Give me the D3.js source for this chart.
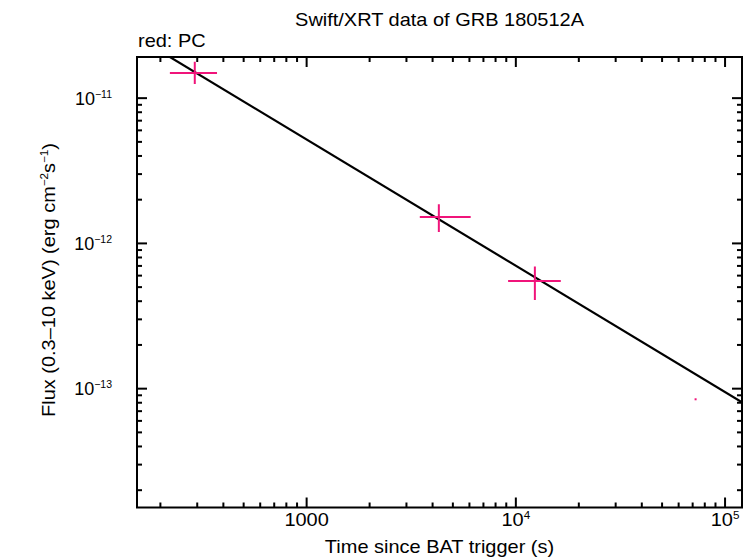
<!DOCTYPE html>
<html><head><meta charset="utf-8">
<script src="https://cdn.jsdelivr.net/npm/d3@7"></script>
<style>body{margin:0;background:#fff}svg{display:block}text{font-family:"Liberation Sans",Arial,sans-serif;fill:#000}</style>
</head><body><svg id="c" width="754" height="558"></svg>
<script>
// Data
const times      = [292, 4285, 12330];
const timesLow   = [222, 3475, 9183];
const timesHigh  = [373, 6083, 16400];
const fluxes     = [1.49e-11, 1.52e-12, 5.52e-13];
const fluxLow    = [1.25e-11, 1.20e-12, 4.08e-13];
const fluxHigh   = [1.78e-11, 1.86e-12, 6.93e-13];
const upperTimes = [72300];
const upperFlux  = [8.45e-14];
const fitIndex = 0.869;
const fitNormAt1000 = 5.19e-12;
const xTickVals = [1000, 1e4, 1e5];
const xTickExps = [null, "4", "5"];
const yTickVals = [1e-11, 1e-12, 1e-13];
const yTickExps = ["−11", "−12", "−13"];

const W=754,H=558, L=137,R=742,T=57,B=507.5;
const SX=1.11, FS=18, SUP=10.5;
const svg=d3.select("#c");
const x=d3.scaleLog().domain([154.6,120500]).range([L,R]);
const y=d3.scaleLog().domain([1.52e-14,1.92e-11]).range([B,T]);
const pink="#f0147a";

svg.append("defs").append("clipPath").attr("id","clip").append("rect")
  .attr("x",L).attr("y",T).attr("width",R-L).attr("height",B-T);

function xTicks(){
  const out=[];
  for(let e=2;e<=5;e++) for(let m=1;m<=9;m++){const v=m*Math.pow(10,e); if(v>=x.domain()[0]&&v<=x.domain()[1]) out.push({v,major:m===1});}
  return out;
}
function yTicks(){
  const out=[];
  for(let e=-15;e<=-11;e++) for(let m=1;m<=9;m++){const v=m*Math.pow(10,e); if(v>=y.domain()[0]&&v<=y.domain()[1]) out.push({v,major:m===1});}
  return out;
}
const g=svg.append("g").attr("stroke","#000").attr("stroke-width",2);
xTicks().forEach(d=>{const px=x(d.v),len=d.major?10:5;
  g.append("line").attr("x1",px).attr("x2",px).attr("y1",B).attr("y2",B-len);
  g.append("line").attr("x1",px).attr("x2",px).attr("y1",T).attr("y2",T+len);});
yTicks().forEach(d=>{const py=y(d.v),len=d.major?10:5;
  g.append("line").attr("x1",L).attr("x2",L+len).attr("y1",py).attr("y2",py);
  g.append("line").attr("x1",R).attr("x2",R-len).attr("y1",py).attr("y2",py);});
svg.append("rect").attr("x",L).attr("y",T).attr("width",R-L).attr("height",B-T)
  .attr("fill","none").attr("stroke","#000").attr("stroke-width",2);

// text helper with horizontal stretch
function stext(px,py,anchor,rot,sx){
  const gg=svg.append("g").attr("transform",`translate(${px},${py})`+(rot?` rotate(${rot})`:"")+` scale(${sx||SX},1)`);
  return gg.append("text").attr("x",0).attr("y",0).attr("text-anchor",anchor).attr("font-size",FS);
}
function pow10(t,exp){
  t.append("tspan").text("10");
  t.append("tspan").attr("dy",-7).attr("font-size",SUP).text(exp);
}

xTickVals.forEach((v,i)=>{
  const t=stext(x(v),526,"middle");
  if(xTickExps[i]===null) t.text("1000"); else pow10(t,xTickExps[i]);
});
yTickVals.forEach((v,i)=>{
  const t=stext(112,y(v)+6.5,"end",0,1.0);
  pow10(t,yTickExps[i]);
});

// Fit line
const pl=svg.append("g").attr("clip-path","url(#clip)");
const fit=t=>fitNormAt1000*Math.pow(t/1000,-fitIndex);
const d0=x.domain()[0], d1=x.domain()[1];
pl.append("line").attr("x1",x(d0)).attr("y1",y(fit(d0))).attr("x2",x(d1)).attr("y2",y(fit(d1)))
  .attr("stroke","#000").attr("stroke-width",2.2);

// Error crosses
times.forEach((t,i)=>{
  pl.append("line").attr("x1",x(timesLow[i])).attr("x2",x(timesHigh[i])).attr("y1",y(fluxes[i])).attr("y2",y(fluxes[i]))
    .attr("stroke",pink).attr("stroke-width",2);
  pl.append("line").attr("x1",x(t)).attr("x2",x(t)).attr("y1",y(fluxLow[i])).attr("y2",y(fluxHigh[i]))
    .attr("stroke",pink).attr("stroke-width",2);
});
upperTimes.forEach((t,i)=>{
  pl.append("rect").attr("x",x(t)-1).attr("y",y(upperFlux[i])-1).attr("width",2).attr("height",2).attr("fill",pink);
});

// Titles
stext((L+R)/2,26,"middle").text("Swift/XRT data of GRB 180512A");
stext(138,47,"start").text("red: PC");
stext((L+R)/2,553,"middle").text("Time since BAT trigger (s)");
const yl=stext(55,280,"middle",-90);
yl.append("tspan").text("Flux (0.3–10 keV) (erg cm");
yl.append("tspan").attr("dy",-7).attr("font-size",SUP).text("−2");
yl.append("tspan").attr("dy",7).text("s");
yl.append("tspan").attr("dy",-7).attr("font-size",SUP).text("−1");
yl.append("tspan").attr("dy",7).text(")");
</script></body></html>
